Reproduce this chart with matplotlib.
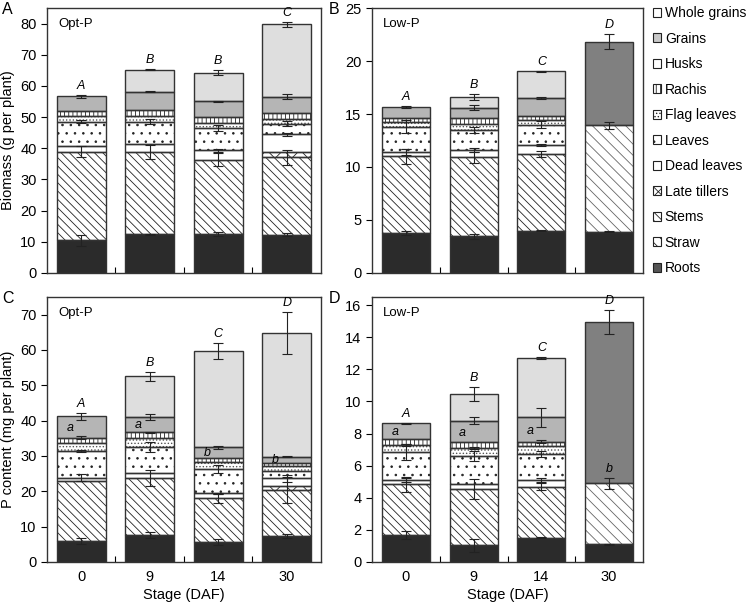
import numpy as np
import matplotlib.pyplot as plt
from matplotlib.patches import Patch

plt.rcParams['font.family'] = ['Liberation Sans', 'DejaVu Sans']
plt.rcParams['hatch.linewidth'] = 0.6

stages = ['0', '9', '14', '30']
parts = ['Roots', 'Straw', 'Stems', 'Late tillers', 'Dead leaves', 'Leaves',
         'Flag leaves', 'Rachis', 'Husks', 'Grains', 'Whole grains']

# segment sizes, rows = parts (order above), columns = stages
bio_opt = np.array([
    [10.5, 12.4, 12.6, 12.3],
    [0, 0, 0, 0],
    [28.4, 26.5, 23.8, 24.8],
    [0, 0, 0, 1.8],
    [1.8, 2.4, 3.0, 5.6],
    [7.8, 7.2, 7.2, 3.3],
    [1.9, 2.0, 1.6, 1.6],
    [1.6, 1.8, 1.7, 1.8],
    [4.7, 5.9, 5.2, 5.4],
    [0, 7.0, 9.2, 23.2],
    [0, 0, 0, 0],
])
bio_opt_err = np.array([
    [1.7, 0.2, 0.6, 0.5],
    [0, 0, 0, 0],
    [1.7, 2.2, 2.2, 2.5],
    [0, 0, 0, 0],
    [0, 0, 0.5, 0.5],
    [0.5, 0.8, 1.0, 0.8],
    [0, 0, 0, 0],
    [0, 0, 0, 0],
    [0.5, 0.3, 0.2, 0.8],
    [0, 0.2, 0.8, 0.8],
    [0, 0, 0, 0],
])

bio_low = np.array([
    [3.8, 3.45, 3.97, 3.87],
    [0, 0, 0, 10.06],
    [7.2, 7.45, 7.23, 0],
    [0, 0, 0, 0],
    [0.4, 0.7, 0.9, 0],
    [2.4, 1.9, 1.9, 0],
    [0.4, 0.6, 0.4, 0],
    [0.45, 0.5, 0.45, 0],
    [1.05, 1.0, 1.65, 0],
    [0, 1.0, 2.55, 0],
    [0, 0, 0, 7.9],
])
bio_low_err = np.array([
    [0.2, 0.2, 0.05, 0.05],
    [0, 0, 0, 0.3],
    [0.7, 0.5, 0.3, 0],
    [0, 0, 0, 0],
    [0.3, 0.2, 0.1, 0],
    [0.6, 0.25, 0.3, 0],
    [0, 0, 0, 0],
    [0, 0, 0, 0],
    [0.1, 0.25, 0.1, 0],
    [0, 0.3, 0.05, 0],
    [0, 0, 0, 0.7],
])

p_opt = np.array([
    [5.96, 7.6, 5.7, 7.3],
    [0, 0, 0, 0],
    [16.94, 16.2, 12.3, 13.0],
    [0, 0, 0, 1.2],
    [0.9, 1.5, 1.4, 2.2],
    [7.6, 7.3, 6.9, 2.0],
    [2.2, 2.4, 2.1, 1.5],
    [1.6, 1.7, 0.9, 0.7],
    [6.0, 4.3, 3.2, 1.9],
    [0, 11.5, 27.3, 35.0],
    [0, 0, 0, 0],
])
p_opt_err = np.array([
    [0.8, 0.8, 0.8, 0.6],
    [0, 0, 0, 0],
    [0, 2.2, 1.3, 3.7],
    [0, 0, 0, 0],
    [1.0, 0, 0.2, 1.0],
    [0.2, 1.5, 1.2, 0],
    [0, 0, 0, 0],
    [0.5, 0.2, 0, 0],
    [1.0, 0.8, 0.4, 0.2],
    [0, 1.3, 2.3, 5.9],
    [0, 0, 0, 0],
])

p_low = np.array([
    [1.71, 1.04, 1.52, 1.1],
    [0, 0, 0, 3.8],
    [3.12, 3.51, 3.18, 0],
    [0, 0, 0, 0],
    [0.27, 0.28, 0.4, 0],
    [1.73, 1.77, 1.63, 0],
    [0.47, 0.5, 0.5, 0],
    [0.37, 0.35, 0.27, 0],
    [0.98, 1.35, 1.5, 0],
    [0, 1.65, 3.7, 0],
    [0, 0, 0, 10.04],
])
p_low_err = np.array([
    [0.25, 0.4, 0.03, 0.05],
    [0, 0, 0, 0.33],
    [0.45, 0.6, 0.2, 0],
    [0, 0, 0, 0],
    [0.1, 0, 0.1, 0],
    [0.5, 0.3, 0.2, 0],
    [0.05, 0.05, 0, 0],
    [0, 0, 0.1, 0],
    [0.03, 0.2, 0.6, 0],
    [0, 0.45, 0.05, 0],
    [0, 0, 0, 0.76],
])

letters_bio_opt = ['A', 'B', 'B', 'C']
letters_bio_low = ['A', 'B', 'C', 'D']
letters_p_opt = ['A', 'B', 'C', 'D']
letters_p_low = ['A', 'B', 'C', 'D']
# small letters inside the husk / straw segments
small_p_opt = ['a', 'a', 'b', 'b']
small_p_low = ['a', 'a', 'a', 'b']

# look of each part: facecolor, hatch, hatch colour
styles = {
    'Roots': ('#2b2b2b', None, '#2b2b2b'),
    'Straw': ('white', '\\\\\\', '#666666'),
    'Stems': ('white', '\\\\\\\\', '#222222'),
    'Late tillers': ('white', 'xx', '#222222'),
    'Dead leaves': ('white', None, '#222222'),
    'Leaves': ('white', '..', '#222222'),
    'Flag leaves': ('white', '.....', '#555555'),
    'Rachis': ('white', '||||', '#222222'),
    'Husks': ('#b5b5b5', None, '#b5b5b5'),
    'Grains': ('#dedede', None, '#dedede'),
    'Whole grains': ('#808080', None, '#808080'),
}

x = np.arange(len(stages))
width = 0.71


def draw(ax, vals, errs, ymax, yticks, label, letters, small=None, small_part=None):
    bottom = np.zeros(len(stages))
    for i, part in enumerate(parts):
        h = vals[i]
        m = h > 0
        if not m.any():
            continue
        fc, hatch, hc = styles[part]
        ax.bar(x[m], h[m], width, bottom=bottom[m], color=fc, hatch=hatch,
               edgecolor=hc, linewidth=0, zorder=2)
        ax.bar(x[m], h[m], width, bottom=bottom[m], fill=False,
               edgecolor='#333333', linewidth=1.0, zorder=3)
        bottom = bottom + h
        e = errs[i]
        me = e > 0
        if me.any():
            ax.errorbar(x[me], bottom[me], yerr=e[me], fmt='none', ecolor='#222222',
                        elinewidth=0.8, capsize=3.5, capthick=0.8, zorder=4)
    # letters above the bars
    cum = np.cumsum(vals, axis=0)
    for j, t in enumerate(letters):
        last = np.nonzero(vals[:, j] > 0)[0][-1]
        ax.annotate(t, (x[j], bottom[j] + errs[last, j]), xytext=(0, 2),
                    textcoords='offset points', ha='center', va='bottom',
                    fontsize=9, style='italic')
    if small is not None:
        for j, t in enumerate(small):
            k = parts.index(small_part[j])
            if small_part[j] == 'Straw':
                ax.annotate(t, (x[j], cum[k, j] + errs[k, j]), xytext=(0, 2),
                            textcoords='offset points', ha='center', va='bottom',
                            fontsize=9, style='italic', zorder=5)
            else:
                y = cum[k - 1, j] + vals[k, j] * 0.45
                ax.annotate(t, (x[j], y), xytext=(-8, 0),
                            textcoords='offset points', ha='center', va='center',
                            fontsize=9, style='italic', zorder=5)
    ax.set_xlim(-0.5, len(stages) - 0.5)
    ax.set_ylim(0, ymax)
    ax.set_yticks(yticks)
    ax.set_xticks(x)
    ax.set_xticks([0.5, 1.5, 2.5], minor=True)
    ax.tick_params(axis='x', which='major', length=0, labelsize=10.5, pad=6)
    ax.tick_params(axis='x', which='minor', direction='in', length=4, width=0.8)
    ax.tick_params(axis='y', direction='out', length=4, width=0.8, labelsize=10.5)
    for s in ax.spines.values():
        s.set_linewidth(1.0)
        s.set_color('#333333')
    ax.text(0.04, 0.94, label, transform=ax.transAxes, fontsize=9.5, va='center')


fig = plt.figure(figsize=(7.54, 6.03), dpi=100)
axA = fig.add_axes([0.0623, 0.5473, 0.3634, 0.4394])
axB = fig.add_axes([0.4934, 0.5473, 0.3594, 0.4394])
axC = fig.add_axes([0.0623, 0.068, 0.3634, 0.4395])
axD = fig.add_axes([0.4934, 0.068, 0.3594, 0.4395])

draw(axA, bio_opt, bio_opt_err, 85, range(0, 81, 10), 'Opt-P', letters_bio_opt)
draw(axB, bio_low, bio_low_err, 25, range(0, 26, 5), 'Low-P', letters_bio_low)
draw(axC, p_opt, p_opt_err, 75, range(0, 71, 10), 'Opt-P', letters_p_opt,
     small_p_opt, ['Husks'] * 4)
draw(axD, p_low, p_low_err, 16.5, range(0, 17, 2), 'Low-P', letters_p_low,
     small_p_low, ['Husks', 'Husks', 'Husks', 'Straw'])

axA.set_xticklabels([])
axB.set_xticklabels([])
axC.set_xticklabels(stages)
axD.set_xticklabels(stages)
axA.set_ylabel('Biomass (g per plant)', fontsize=10.5, labelpad=4)
axC.set_ylabel('P content (mg per plant)', fontsize=10.5, labelpad=4)
axC.set_xlabel('Stage (DAF)', fontsize=10.5, labelpad=3)
axD.set_xlabel('Stage (DAF)', fontsize=10.5, labelpad=3)

for t, px, py in [('A', 0.003, 0.985), ('B', 0.436, 0.985), ('C', 0.003, 0.505), ('D', 0.436, 0.505)]:
    fig.text(px, py, t, fontsize=11.5, va='center', ha='left')

# legend as printed in the figure
legend_face = {'Whole grains': 'white', 'Husks': 'white', 'Grains': '#c8c8c8', 'Roots': '#555555'}
handles = []
for part in parts[::-1]:
    fc, hatch, hc = styles[part]
    fc = legend_face.get(part, fc)
    handles.append(Patch(facecolor=fc, hatch=hatch, edgecolor='#222222', linewidth=0.8, label=part))
fig.legend(handles=handles, loc='upper left', bbox_to_anchor=(0.866, 0.99), frameon=False,
           fontsize=10, labelspacing=0.83, handlelength=0.6, handleheight=0.6,
           handletextpad=0.25, borderpad=0, borderaxespad=0)

fig.savefig('out.png', dpi=100)
